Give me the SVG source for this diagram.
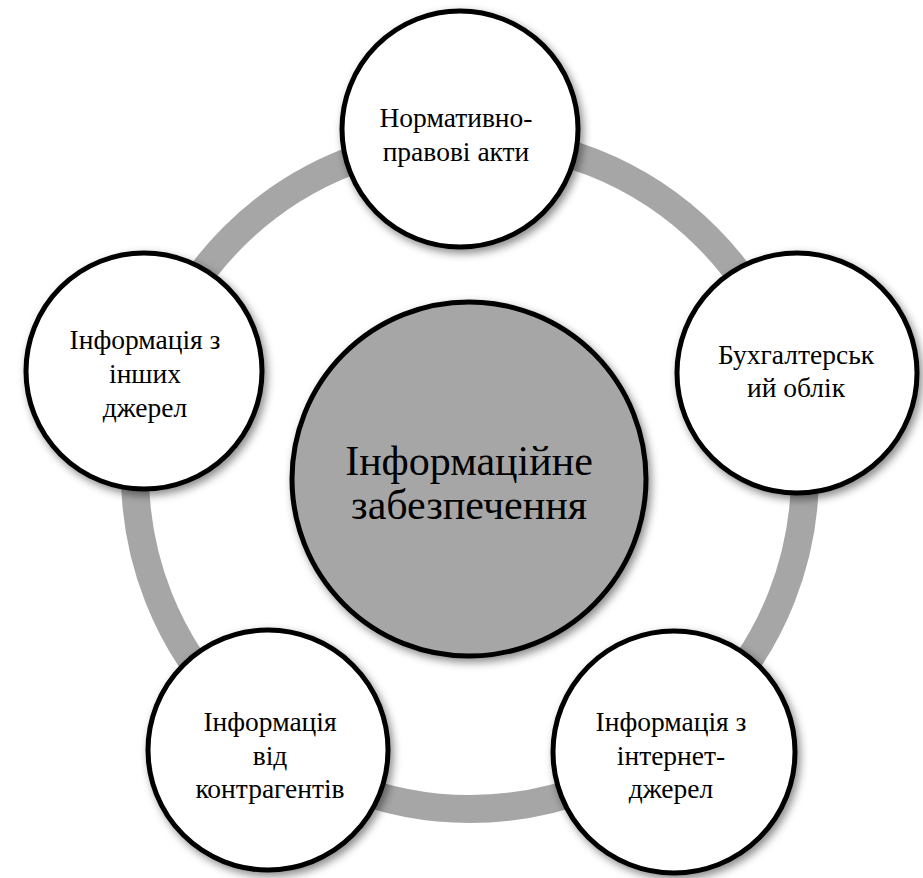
<svg xmlns="http://www.w3.org/2000/svg" width="923" height="878" viewBox="0 0 923 878">
<style>
.node{stroke:#000;stroke-width:5;filter:url(#sh)}
.outer{fill:#fff}
.center{fill:#a6a6a6}
text{font-family:'Liberation Serif','Times New Roman',serif;fill:#000;text-anchor:middle}
.t{font-size:27.5px}
.tc{font-size:42px}
</style>
<defs>
<filter id="sh" x="-20%" y="-20%" width="140%" height="140%">
<feDropShadow dx="3" dy="4" stdDeviation="4" flood-color="#000" flood-opacity="0.45"/>
</filter>
</defs>
<rect width="923" height="878" fill="#fff"/>
<g id="connectors">
<circle cx="470" cy="474" r="335" fill="none" stroke="#a6a6a6" stroke-width="28"/>
</g>
<g id="center-node">
<circle class="node center" cx="469" cy="479" r="177"/>
<text class="tc" x="469" y="475">Інформаційне</text>
<text class="tc" x="469" y="519">забезпечення</text>
</g>
<g id="node-top">
<circle class="node outer" cx="460" cy="129" r="118"/>
<text class="t" x="456" y="127">Нормативно-</text>
<text class="t" x="456" y="161">правові акти</text>
</g>
<g id="node-right">
<circle class="node outer" cx="797" cy="373" r="120"/>
<text class="t" x="796" y="364">Бухгалтерськ</text>
<text class="t" x="796" y="397">ий облік</text>
</g>
<g id="node-bottom-right">
<circle class="node outer" cx="674" cy="752" r="121"/>
<text class="t" x="671" y="731">Інформація з</text>
<text class="t" x="671" y="765">інтернет-</text>
<text class="t" x="671" y="798">джерел</text>
</g>
<g id="node-bottom-left">
<circle class="node outer" cx="268" cy="750" r="120"/>
<text class="t" x="270" y="731">Інформація</text>
<text class="t" x="270" y="765">від</text>
<text class="t" x="270" y="798">контрагентів</text>
</g>
<g id="node-left">
<circle class="node outer" cx="144" cy="371" r="118"/>
<text class="t" x="145" y="349">Інформація з</text>
<text class="t" x="145" y="383">інших</text>
<text class="t" x="145" y="417">джерел</text>
</g>
</svg>
